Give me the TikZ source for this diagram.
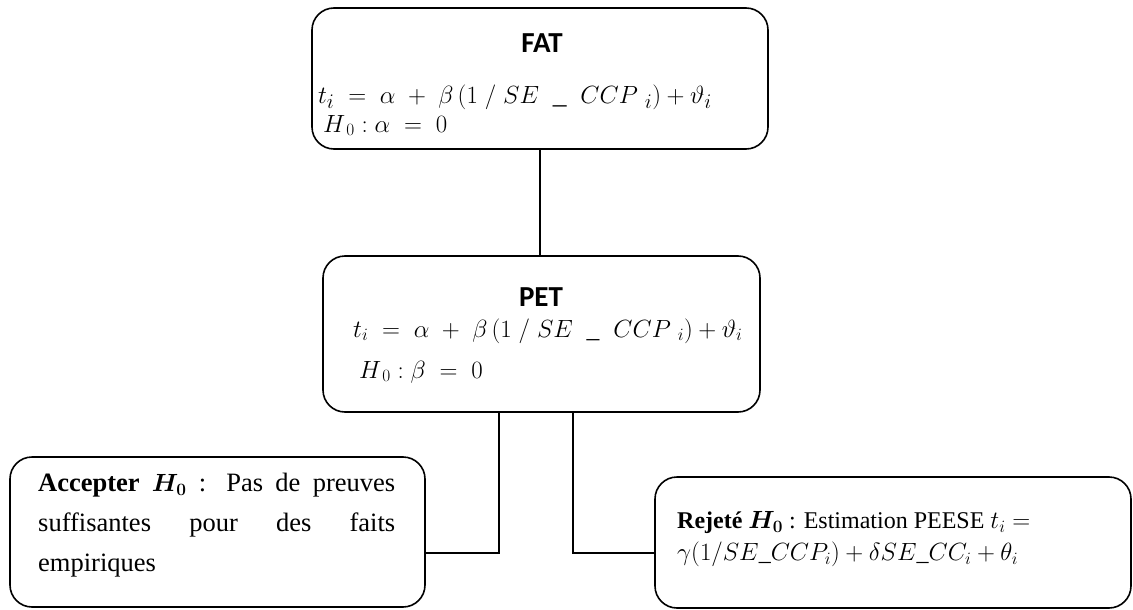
\documentclass[tikz,border=0pt]{standalone}
\usepackage{fontspec}
\usepackage{amsmath}
\usepackage{amssymb}
\usepackage{bm}
\setmainfont{Liberation Serif}
\newfontfamily\titlefont{Carlito}
\usetikzlibrary{positioning}

\begin{document}
\begin{tikzpicture}[x=1pt,y=-1pt,box/.style={draw,rectangle,rounded corners=22pt,line width=1.6pt,inner sep=0pt},title/.style={anchor=base,inner sep=0pt,font=\titlefont\bfseries\fontsize{29}{34}\selectfont},eqn/.style={anchor=base west,inner sep=0pt,font=\fontsize{26}{30}\selectfont},body/.style={anchor=north west,inner sep=0pt,font=\fontsize{26.5}{40}\selectfont},link/.style={draw,line width=1.3pt}]
\useasboundingbox (0,0) rectangle (1133,610);
\node[box,minimum width=456pt,minimum height=141pt] (fat) at (540,78.5) {};
\node[box,minimum width=437pt,minimum height=156pt] (pet) at (541.5,334) {};
\node[box,minimum width=415pt,minimum height=150pt] (acc) at (217.5,532) {};
\node[box,minimum width=476pt,minimum height=131pt] (rej) at (893,542.5) {};
\node[title] (fattitle) at (542,53) {FAT};
\node[eqn,font=\fontsize{27.5}{30}\selectfont] (fateq) at (318,103) {$t_{i} \;=\; \alpha \;+\; \beta\,(1\;/\;SE\;\;\_\;\;CCP\;_{i}) + \vartheta_{i}$};
\node[eqn] (fathyp) at (323,132) {$H_{\,0} : \alpha \;=\; 0$};
\node[title] (pettitle) at (541,306) {PET};
\node[eqn,font=\fontsize{25.6}{30}\selectfont] (peteq) at (353,337) {$t_{i} \;=\; \alpha \;+\; \beta\,(1\;/\;SE\;\;\_\;\;CCP\;_{i}) + \vartheta_{i}$};
\node[eqn] (pethyp) at (359,378) {$H_{\,0} : \beta \;=\; 0$};
\node[body,text width=357pt,align=justify] (acctext) at (38,473) {\textbf{Accepter} $\bm{H_0}$ : Pas de preuves\linebreak suffisantes pour des faits\linebreak empiriques};
\node[body,align=left,font=\fontsize{24}{32}\selectfont] (rejtext) at (677,511) {\textbf{Rejeté} $\bm{H_0}$ : Estimation PEESE $t_i =$\\$\gamma(1/SE\_CCP_i) + \delta SE\_CC_i + \theta_i$};
\draw[link] (fat.south) -- (fat.south |- pet.north);
\draw[link] ([xshift=-42.5pt]pet.south) |- ([yshift=-21pt]acc.east);
\draw[link] ([xshift=31.5pt]pet.south) |- ([yshift=-10.5pt]rej.west);
\end{tikzpicture}
\end{document}
